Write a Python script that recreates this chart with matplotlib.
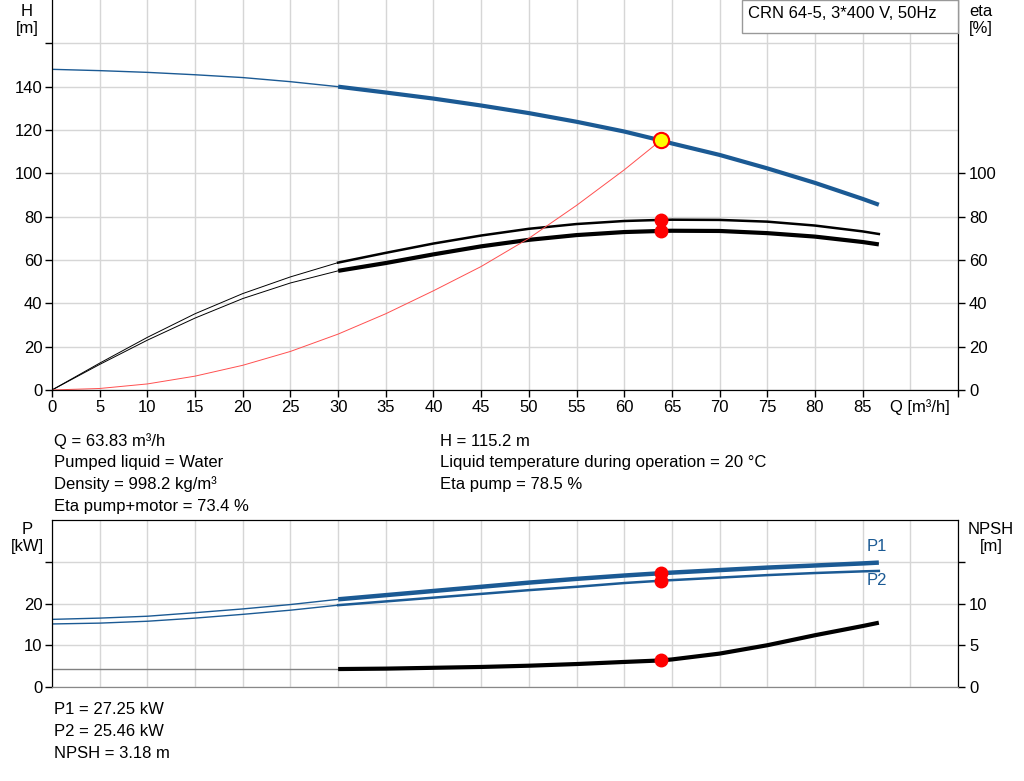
import matplotlib
matplotlib.use("Agg")
import matplotlib.pyplot as plt
from matplotlib.patches import Rectangle

plt.rcParams['font.family'] = ['Liberation Sans', 'DejaVu Sans']
plt.rcParams['font.size'] = 12

BLUE = '#1b5a94'
GRID = '#d6d6d6'

# flow points [m3/h]
q = [0, 5, 10, 15, 20, 25, 30, 35, 40, 45, 50, 55, 60, 63.83, 65, 70, 75, 80, 85, 86.7]
head = [148, 147.4, 146.6, 145.5, 144.2, 142.3, 140, 137.3, 134.5, 131.3, 127.8,
        123.8, 119.3, 115.2, 113.8, 108.5, 102.3, 95.6, 88.2, 85.5]
eta_pump = [0, 12.4, 24.3, 35.2, 44.5, 52.2, 58.8, 63.3, 67.6, 71.3, 74.4,
            76.6, 78.0, 78.5, 78.6, 78.5, 77.7, 75.9, 73.2, 72.0]
eta_total = [0, 11.8, 23.0, 33.2, 42.2, 49.4, 55.0, 58.6, 62.6, 66.3, 69.3,
             71.5, 72.9, 73.4, 73.5, 73.4, 72.4, 70.8, 68.3, 67.2]
p1 = [16.2, 16.5, 16.95, 17.8, 18.7, 19.75, 21.0, 22.0, 23.0, 24.0, 25.0,
      25.9, 26.7, 27.25, 27.4, 28.0, 28.6, 29.1, 29.6, 29.8]
p2 = [15.1, 15.3, 15.75, 16.5, 17.4, 18.4, 19.6, 20.5, 21.4, 22.3, 23.2,
      24.0, 24.9, 25.46, 25.6, 26.2, 26.8, 27.3, 27.7, 27.8]
npsh = [2.15, 2.15, 2.15, 2.15, 2.15, 2.15, 2.15, 2.2, 2.3, 2.4, 2.55,
        2.75, 3.0, 3.18, 3.3, 4.0, 5.0, 6.2, 7.3, 7.7]

# system curve up to the duty point
q_sys = [0, 5, 10, 15, 20, 25, 30, 35, 40, 45, 50, 55, 60, 63.83]
h_sys = [0, 0.7, 2.8, 6.4, 11.4, 17.8, 25.8, 35.2, 45.8, 57.0, 70.0, 85.2, 101.6, 115.2]

duty_q = 63.83
duty_h = 115.2
duty_eta_pump = 78.5
duty_eta_total = 73.4
duty_p1 = 27.25
duty_p2 = 25.46
duty_npsh = 3.18

x_ticks = list(range(0, 90, 5)) + [95]
i30 = q.index(30)

fig = plt.figure(figsize=(10.24, 7.81), dpi=100)

# ---------- upper chart: H and eta ----------
ax = fig.add_axes([52 / 1024, 1 - 390 / 781, 906 / 1024, 390 / 781])
ax.set_xlim(0, 95)
ax.set_ylim(0, 180)
ax.set_xticks(x_ticks)
ax.set_xticklabels([str(t) if t <= 85 else '' for t in x_ticks])
ax.set_xticks([90], minor=True)
ax.tick_params(axis='x', which='minor', length=0)
ax.set_yticks(range(0, 180, 20))
ax.set_yticklabels([str(t) if t <= 140 else '' for t in range(0, 180, 20)])
ax.grid(True, which='both', color=GRID, lw=1)
ax.set_axisbelow(True)
ax.tick_params(direction='out', length=5, width=1, pad=2)
ax.spines['top'].set_visible(False)

ax.plot(q[:i30 + 1], head[:i30 + 1], color=BLUE, lw=1)
ax.plot(q[i30:], head[i30:], color=BLUE, lw=3, solid_capstyle='butt')
ax.plot(q[:i30 + 1], eta_pump[:i30 + 1], color='k', lw=0.7)
ax.plot(q[i30:], eta_pump[i30:], color='k', lw=1.8)
ax.plot(q[:i30 + 1], eta_total[:i30 + 1], color='k', lw=0.7)
ax.plot(q[i30:], eta_total[i30:], color='k', lw=3, solid_capstyle='butt')
ax.plot(q_sys, h_sys, color='#ff5050', lw=0.7)
ax.plot([duty_q, duty_q], [duty_eta_pump, duty_eta_total], 'o', color='red', ms=9)
ax.plot(duty_q, duty_h, 'o', mfc='#ffff00', mec='red', mew=1.5, ms=11)

ax2 = ax.twinx()
ax2.set_ylim(0, 180)
ax2.set_yticks(range(0, 120, 20))
ax2.tick_params(direction='out', length=5, width=1, pad=3)
ax2.spines['top'].set_visible(False)

ax.text(91, -4, 'Q [m³/h]', ha='center', va='top')
fig.text(27 / 1024, 1 - 20 / 781, 'H\n[m]', ha='center', va='center', linespacing=1.2)
fig.text(981 / 1024, 1 - 20 / 781, 'eta\n[%]', ha='center', va='center', linespacing=1.2)

fig.add_artist(Rectangle((742 / 1024, 1 - 33 / 781), 216 / 1024, 33 / 781,
                         transform=fig.transFigure, fc='white', ec='#999999', lw=1))
fig.text(748 / 1024, 1 - 14 / 781, 'CRN 64-5, 3*400 V, 50Hz', ha='left', va='center')

# ---------- duty point text ----------
left_lines = ['Q = 63.83 m³/h', 'Pumped liquid = Water', 'Density = 998.2 kg/m³',
              'Eta pump+motor = 73.4 %']
right_lines = ['H = 115.2 m', 'Liquid temperature during operation = 20 °C',
               'Eta pump = 78.5 %']
for i, s in enumerate(left_lines):
    fig.text(54 / 1024, 1 - (441 + 21.7 * i) / 781, s, ha='left', va='center')
for i, s in enumerate(right_lines):
    fig.text(440 / 1024, 1 - (441 + 21.7 * i) / 781, s, ha='left', va='center')

# ---------- lower chart: P and NPSH ----------
bx = fig.add_axes([52 / 1024, 1 - 687 / 781, 906 / 1024, 167 / 781])
bx.set_xlim(0, 95)
bx.set_ylim(0, 40)
bx.set_xticks(list(range(0, 100, 5)))
bx.set_xticklabels([])
bx.tick_params(axis='x', length=0)
bx.set_yticks([0, 10, 20, 30])
bx.set_yticklabels(['0', '10', '20', ''])
bx.tick_params(axis='y', direction='out', length=5, width=1, pad=2)
bx.grid(True, color=GRID, lw=1)
bx.set_axisbelow(True)
bx.spines['bottom'].set_color('#888888')

bx.plot(q[:i30 + 1], p1[:i30 + 1], color=BLUE, lw=1)
bx.plot(q[i30:], p1[i30:], color=BLUE, lw=3.2, solid_capstyle='butt')
bx.plot(q[:i30 + 1], p2[:i30 + 1], color=BLUE, lw=1)
bx.plot(q[i30:], p2[i30:], color=BLUE, lw=1.8)
bx.plot([duty_q, duty_q], [duty_p1, duty_p2], 'o', color='red', ms=9)
bx.text(86.5, 33.6, 'P1', color=BLUE, ha='center', va='center')
bx.text(86.5, 25.4, 'P2', color=BLUE, ha='center', va='center')

bx2 = bx.twinx()
bx2.set_ylim(0, 20)
bx2.set_yticks([0, 5, 10, 15])
bx2.set_yticklabels(['0', '5', '10', ''])
bx2.tick_params(direction='out', length=5, width=1, pad=3)
bx2.spines['bottom'].set_color('#888888')
bx2.plot(q[:i30 + 1], npsh[:i30 + 1], color='#808080', lw=1)
bx2.plot(q[i30:], npsh[i30:], color='k', lw=3, solid_capstyle='butt')
bx2.plot(duty_q, duty_npsh, 'o', color='red', ms=9)

fig.text(27 / 1024, 1 - 538 / 781, 'P\n[kW]', ha='center', va='center', linespacing=1.2)
fig.text(991 / 1024, 1 - 538 / 781, 'NPSH\n[m]', ha='center', va='center', linespacing=1.2)

bottom_lines = ['P1 = 27.25 kW', 'P2 = 25.46 kW', 'NPSH = 3.18 m']
for i, s in enumerate(bottom_lines):
    fig.text(54 / 1024, 1 - (710 + 21.7 * i) / 781, s, ha='left', va='center')

fig.savefig('out.png', dpi=100)
